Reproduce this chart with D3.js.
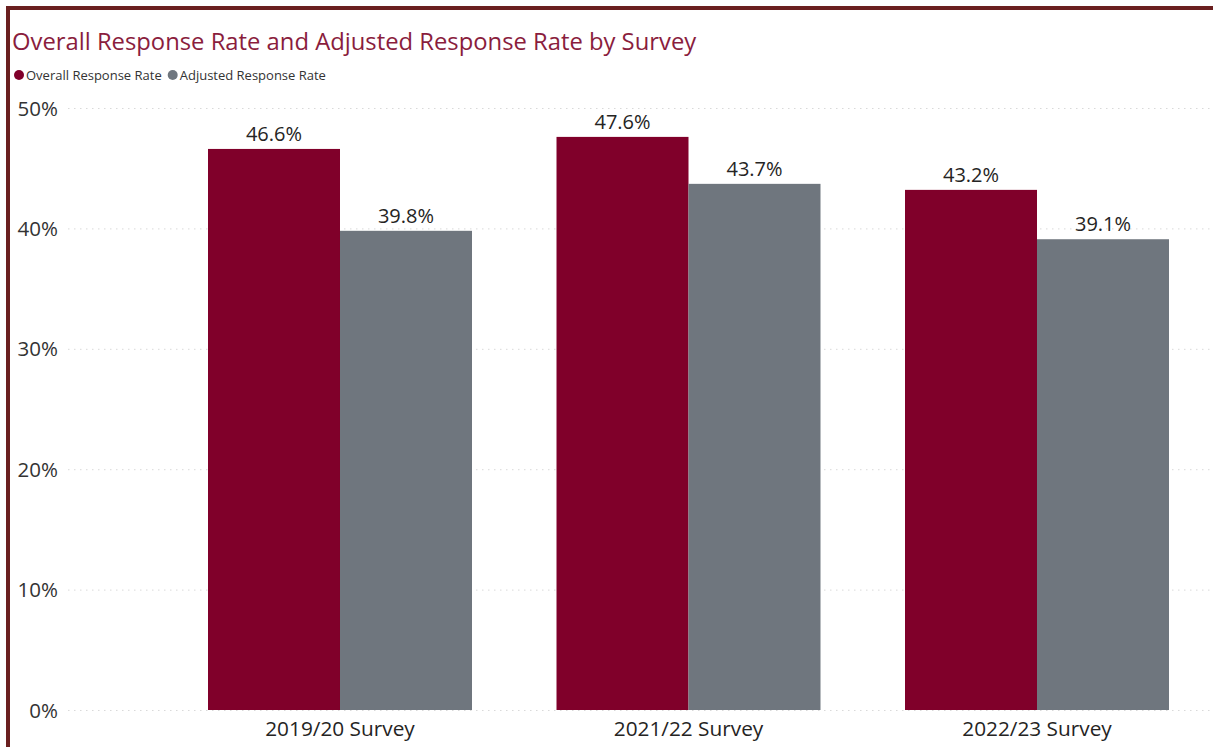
<!DOCTYPE html>
<html>
<head>
<meta charset="utf-8">
<script src="https://cdn.jsdelivr.net/npm/d3@7"></script>
<style>
  html, body { margin: 0; padding: 0; background: #fff; }
  svg { display: block; font-family: "Open Sans", "Noto Sans", sans-serif; }
</style>
</head>
<body>
<svg id="chart" width="1213" height="747"></svg>
<script>
// Survey response rates (percent)
const surveys = ["2019/20 Survey", "2021/22 Survey", "2022/23 Survey"];
const seriesNames = ["Overall Response Rate", "Adjusted Response Rate"];
const overallRate = [46.6, 47.6, 43.2];
const adjustedRate = [39.8, 43.7, 39.1];
const yTicks = [0, 10, 20, 30, 40, 50];
const seriesColors = ["#80002a", "#6f767e"];

const rows = surveys.map((s, i) => ({ survey: s, values: [overallRate[i], adjustedRate[i]] }));

const svg = d3.select("#chart");

// Frame lines along the top and left edges
svg.append("rect").attr("x", 6).attr("y", 6).attr("width", 1207).attr("height", 4).attr("fill", "#6a1f1f");
svg.append("rect").attr("x", 6).attr("y", 6).attr("width", 4).attr("height", 741).attr("fill", "#6a1f1f");

// Title
svg.append("text")
  .attr("x", 12).attr("y", 50)
  .attr("fill", "#8a1d3d")
  .attr("font-size", 23.8)
  .text("Overall Response Rate and Adjusted Response Rate by Survey");

// Legend
const legend = svg.append("g").attr("transform", "translate(19,75)");
let lx = 0;
seriesNames.forEach((name, i) => {
  const g = legend.append("g").attr("transform", `translate(${lx},0)`);
  g.append("circle").attr("r", 5).attr("cx", 0).attr("cy", 0).attr("fill", seriesColors[i]);
  const t = g.append("text").attr("x", 7).attr("y", 4.5)
    .attr("font-size", 13).attr("fill", "#333").text(name);
  lx += 7 + t.node().getComputedTextLength() + 11;
});

// Scales
const y = d3.scaleLinear().domain([0, 50]).range([710, 108]);
const x0 = d3.scaleBand().domain(surveys).range([208, 1169]).paddingInner(0.2425).paddingOuter(0);
const x1 = d3.scaleBand().domain(d3.range(seriesNames.length)).range([0, x0.bandwidth()]).padding(0);

// Gridlines
svg.append("g")
  .selectAll("line")
  .data(yTicks)
  .join("line")
  .attr("x1", 68).attr("x2", 1213)
  .attr("y1", d => y(d) + 0.5).attr("y2", d => y(d) + 0.5)
  .attr("stroke", "#d9d9d9")
  .attr("stroke-width", 1)
  .attr("stroke-dasharray", "1.5,4.5");

// Y axis labels
const yAxis = d3.axisLeft(y).tickValues(yTicks).tickFormat(d => d + "%").tickSize(0).tickPadding(0);
svg.append("g")
  .attr("transform", "translate(58,0)")
  .call(yAxis)
  .call(g => g.select(".domain").remove())
  .call(g => g.selectAll("text")
    .attr("font-family", "'Open Sans', 'Noto Sans', sans-serif")
    .attr("font-size", 20.5)
    .attr("fill", "#333")
    .attr("dy", "0.35em"));

// Bars
const groups = svg.append("g")
  .selectAll("g")
  .data(rows)
  .join("g")
  .attr("transform", d => `translate(${x0(d.survey)},0)`);

groups.selectAll("rect")
  .data(d => d.values.map((v, i) => ({ v, i })))
  .join("rect")
  .attr("x", d => x1(d.i))
  .attr("y", d => y(d.v))
  .attr("width", x1.bandwidth())
  .attr("height", d => y(0) - y(d.v))
  .attr("fill", d => seriesColors[d.i]);

// Value labels
groups.selectAll("text")
  .data(d => d.values.map((v, i) => ({ v, i })))
  .join("text")
  .attr("x", d => x1(d.i) + x1.bandwidth() / 2)
  .attr("y", d => y(d.v) - 8)
  .attr("text-anchor", "middle")
  .attr("font-size", 20)
  .attr("fill", "#252423")
  .text(d => d.v.toFixed(1) + "%");

// X axis labels
const xAxis = d3.axisBottom(x0).tickSize(0).tickPadding(0);
svg.append("g")
  .attr("transform", "translate(0,710)")
  .call(xAxis)
  .call(g => g.select(".domain").remove())
  .call(g => g.selectAll("text")
    .attr("font-family", "'Open Sans', 'Noto Sans', sans-serif")
    .attr("font-size", 20.8)
    .attr("fill", "#252423")
    .attr("dy", 0)
    .attr("y", 26));
</script>
</body>
</html>
